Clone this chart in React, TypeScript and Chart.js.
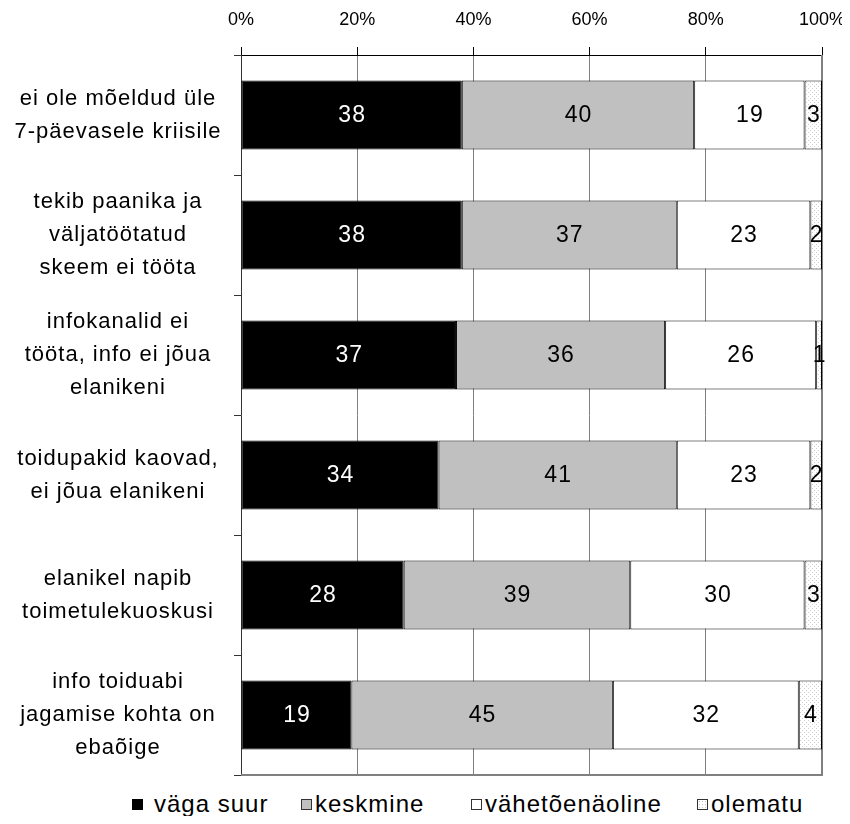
import React, { useEffect, useRef } from 'react';
import { Chart, registerables } from 'chart.js';

Chart.register(...registerables);

const FONT = '"Liberation Sans", Arial, Helvetica, sans-serif';

const categories: string[][] = [
  ['ei ole mõeldud üle', '7-päevasele kriisile'],
  ['tekib paanika ja', 'väljatöötatud', 'skeem ei tööta'],
  ['infokanalid ei', 'tööta, info ei jõua', 'elanikeni'],
  ['toidupakid kaovad,', 'ei jõua elanikeni'],
  ['elanikel napib', 'toimetulekuoskusi'],
  ['info toiduabi', 'jagamise kohta on', 'ebaõige'],
];

const seriesNames = ['väga suur', 'keskmine', 'vähetõenäoline', 'olematu'];
const vagaSuur = [38, 38, 37, 34, 28, 19];
const keskmine = [40, 37, 36, 41, 39, 45];
const vahetoenaoline = [19, 23, 26, 23, 30, 32];
const olematu = [3, 2, 1, 2, 3, 4];
const xTickStep = 20;

const legendLeft = [124, 293, 463, 689];

function makePattern(ctx: CanvasRenderingContext2D): CanvasPattern | string {
  const c = document.createElement('canvas');
  c.width = 4;
  c.height = 4;
  const g = c.getContext('2d');
  if (!g) return '#eeeeee';
  g.fillStyle = '#ffffff';
  g.fillRect(0, 0, 4, 4);
  g.fillStyle = '#cfcfcf';
  g.fillRect(0, 0, 1, 1);
  g.fillRect(2, 2, 1, 1);
  return ctx.createPattern(c, 'repeat') || '#eeeeee';
}

const frameLinesPlugin = {
  id: 'frameLines',
  beforeDatasetsDraw(chart: any) {
    const ctx = chart.ctx as CanvasRenderingContext2D;
    const a = chart.chartArea;
    ctx.save();
    ctx.strokeStyle = '#808080';
    ctx.lineWidth = 2;
    ctx.beginPath();
    ctx.moveTo(a.left, a.bottom);
    ctx.lineTo(a.right, a.bottom);
    ctx.lineTo(a.right, a.top);
    ctx.stroke();
    ctx.restore();
  },
};

const dataLabelPlugin = {
  id: 'segLabels',
  afterDatasetsDraw(chart: any) {
    const ctx = chart.ctx as any;
    ctx.save();
    ctx.font = `23px ${FONT}`;
    try {
      ctx.letterSpacing = '1px';
    } catch (e) {
      /* ignore */
    }
    ctx.textAlign = 'center';
    ctx.textBaseline = 'middle';
    chart.data.datasets.forEach((ds: any, i: number) => {
      const meta = chart.getDatasetMeta(i);
      meta.data.forEach((bar: any, j: number) => {
        const p = bar.getProps(['x', 'y', 'base'], true);
        ctx.fillStyle = i === 0 ? '#ffffff' : '#000000';
        ctx.fillText(String(ds.data[j]), (p.x + p.base) / 2 + 0.5, p.y + 1);
      });
    });
    ctx.restore();
  },
};

const categoryLabelPlugin = {
  id: 'catLabels',
  afterDraw(chart: any) {
    const ctx = chart.ctx as any;
    const yScale = chart.scales.y;
    ctx.save();
    ctx.font = `22px ${FONT}`;
    try {
      ctx.letterSpacing = '1px';
    } catch (e) {
      /* ignore */
    }
    ctx.textAlign = 'center';
    ctx.textBaseline = 'middle';
    ctx.fillStyle = '#000000';
    const lineH = 33;
    categories.forEach((lines, i) => {
      const cy = yScale.getPixelForValue(i);
      const n = lines.length;
      lines.forEach((t, k) => {
        ctx.fillText(t, 110, cy + (k - (n - 1) / 2) * lineH);
      });
    });
    ctx.restore();
  },
};

export default function App() {
  const ref = useRef<HTMLCanvasElement | null>(null);

  useEffect(() => {
    const canvas = ref.current;
    if (!canvas) return;
    const ctx = canvas.getContext('2d');
    if (!ctx) return;
    const pattern = makePattern(ctx);
    const fills = ['#000000', '#c0c0c0', '#ffffff', pattern];
    const values = [vagaSuur, keskmine, vahetoenaoline, olematu];

    const chart = new Chart(ctx, {
      type: 'bar',
      data: {
        labels: categories.map((c) => c.join(' ')),
        datasets: seriesNames.map((name, i) => ({
          label: name,
          data: values[i],
          backgroundColor: fills[i] as any,
          borderColor: '#000000',
          borderWidth: 1,
          borderSkipped: false,
          barPercentage: 0.575,
          categoryPercentage: 1,
        })),
      },
      options: {
        indexAxis: 'y',
        responsive: false,
        animation: false,
        layout: { padding: { top: 0, left: 0, right: 23, bottom: 5 } },
        plugins: {
          legend: { display: false },
          tooltip: { enabled: false },
        },
        scales: {
          x: {
            type: 'linear',
            position: 'top',
            stacked: true,
            min: 0,
            max: 100,
            ticks: {
              stepSize: xTickStep,
              callback: (v: any) => `${v}%`,
              font: { size: 18, family: FONT },
              color: '#000000',
              padding: 16,
            },
            grid: {
              color: '#808080',
              tickColor: '#000000',
              tickLength: 8,
            },
            border: { display: true, color: '#000000', width: 1 },
            afterFit: (s: any) => {
              s.height = 47;
              s.paddingLeft = 0;
              s.paddingRight = 0;
            },
          },
          y: {
            type: 'category',
            stacked: true,
            position: 'left',
            ticks: {
              display: false,
              autoSkip: false,
            },
            grid: {
              offset: true,
              color: 'rgba(0,0,0,0)',
              tickColor: '#333333',
              tickLength: 7,
            },
            border: { display: true, color: '#333333', width: 1 },
            afterFit: (s: any) => {
              s.width = 233;
              s.paddingTop = 0;
              s.paddingBottom = 0;
            },
          },
        },
      },
      plugins: [frameLinesPlugin, dataLabelPlugin, categoryLabelPlugin],
    });

    return () => chart.destroy();
  }, []);

  const boxStyles: React.CSSProperties[] = [
    { background: '#000000', border: '1px solid #000000' },
    { background: '#c0c0c0', border: '1px solid #333333' },
    { background: '#ffffff', border: '1px solid #333333' },
    {
      backgroundColor: '#ffffff',
      backgroundImage: 'radial-gradient(#c8c8c8 0.6px, transparent 0.8px)',
      backgroundSize: '3px 3px',
      border: '1px solid #333333',
    },
  ];

  return (
    <div style={{ position: 'relative', width: 837, height: 808 }}>
      <canvas ref={ref} width={837} height={772} style={{ display: 'block' }} />
      {seriesNames.map((name, i) => (
        <div
          key={name}
          style={{
            position: 'absolute',
            left: legendLeft[i],
            top: 784,
            height: 24,
            lineHeight: '24px',
            display: 'flex',
            alignItems: 'center',
            fontFamily: FONT,
            fontSize: 24,
            letterSpacing: '1px',
            color: '#000',
            whiteSpace: 'nowrap',
          }}
        >
          <span
            style={{
              display: 'inline-block',
              width: 9,
              height: 9,
              marginRight: i === 0 ? 11 : 3,
              ...boxStyles[i],
            }}
          />
          <span>{name}</span>
        </div>
      ))}
    </div>
  );
}
